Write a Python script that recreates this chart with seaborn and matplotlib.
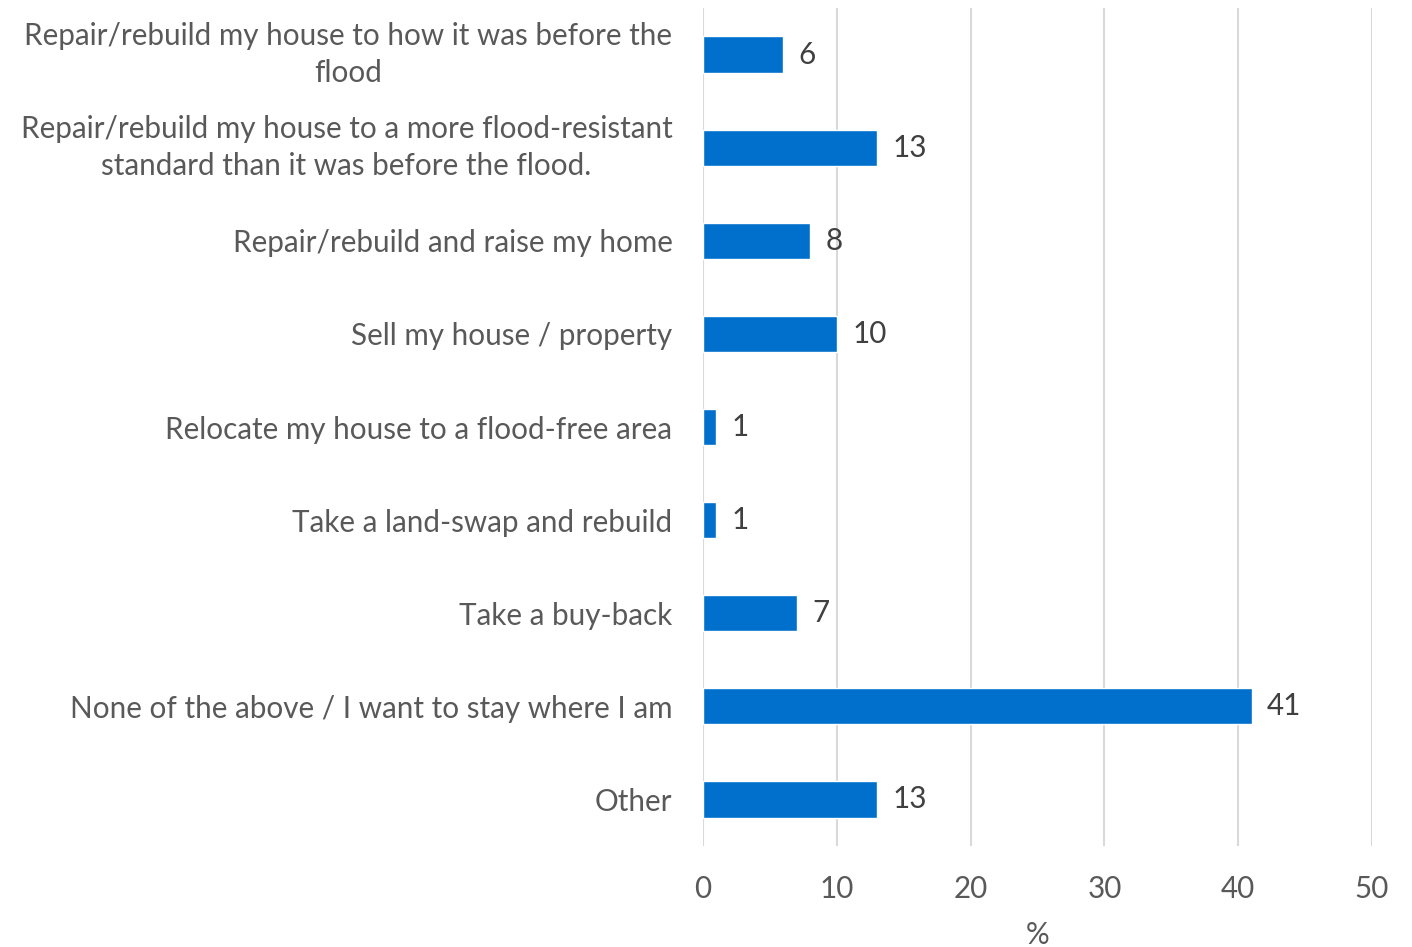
import matplotlib
matplotlib.use("Agg")
import matplotlib.pyplot as plt
import seaborn as sns
import pandas as pd

categories = [
    "Repair/rebuild my house to how it was before the\nflood",
    "Repair/rebuild my house to a more flood-resistant\nstandard than it was before the flood.",
    "Repair/rebuild and raise my home",
    "Sell my house / property",
    "Relocate my house to a flood-free area",
    "Take a land-swap and rebuild",
    "Take a buy-back",
    "None of the above / I want to stay where I am",
    "Other",
]
percentages = [6, 13, 8, 10, 1, 1, 7, 41, 13]
x_ticks = [0, 10, 20, 30, 40, 50]

df = pd.DataFrame({"option": categories, "pct": percentages})

sns.set_theme(style="white")
plt.rcParams["font.family"] = ["Lato", "DejaVu Sans"]

text_color = "#595959"
bar_color = "#0070CC"
grid_color = "#D9D9D9"
fs = 21.3

fig = plt.figure(figsize=(14.12, 9.47), dpi=100)
ax = fig.add_axes([703 / 1412, 1 - 846 / 947, (1372 - 703) / 1412, (846 - 8) / 947])

sns.barplot(data=df, x="pct", y="option", orient="h", color=bar_color,
            width=0.39, saturation=1, ax=ax)

ax.set_xlim(0, 50)
ax.set_xticks(x_ticks)
ax.set_xticklabels([str(t) for t in x_ticks])
ax.xaxis.grid(True, color=grid_color, linewidth=1.5)
ax.set_axisbelow(True)
for s in ax.spines.values():
    s.set_visible(False)

ax.tick_params(axis="x", length=0, pad=21, labelsize=fs, labelcolor=text_color)
ax.tick_params(axis="y", length=0, pad=22, labelsize=fs, labelcolor=text_color)
for lbl in ax.get_yticklabels():
    lbl.set_multialignment("center")
    lbl.set_linespacing(1.42)
    if "\n" in lbl.get_text():
        lbl.set_verticalalignment("center")

ax.set_xlabel("%", fontsize=fs, color=text_color, labelpad=13)
ax.set_ylabel("")

ax.bar_label(ax.containers[0], labels=[str(v) for v in percentages],
             padding=11, fontsize=fs, color="#404040")

fig.savefig("out.png", dpi=100)
